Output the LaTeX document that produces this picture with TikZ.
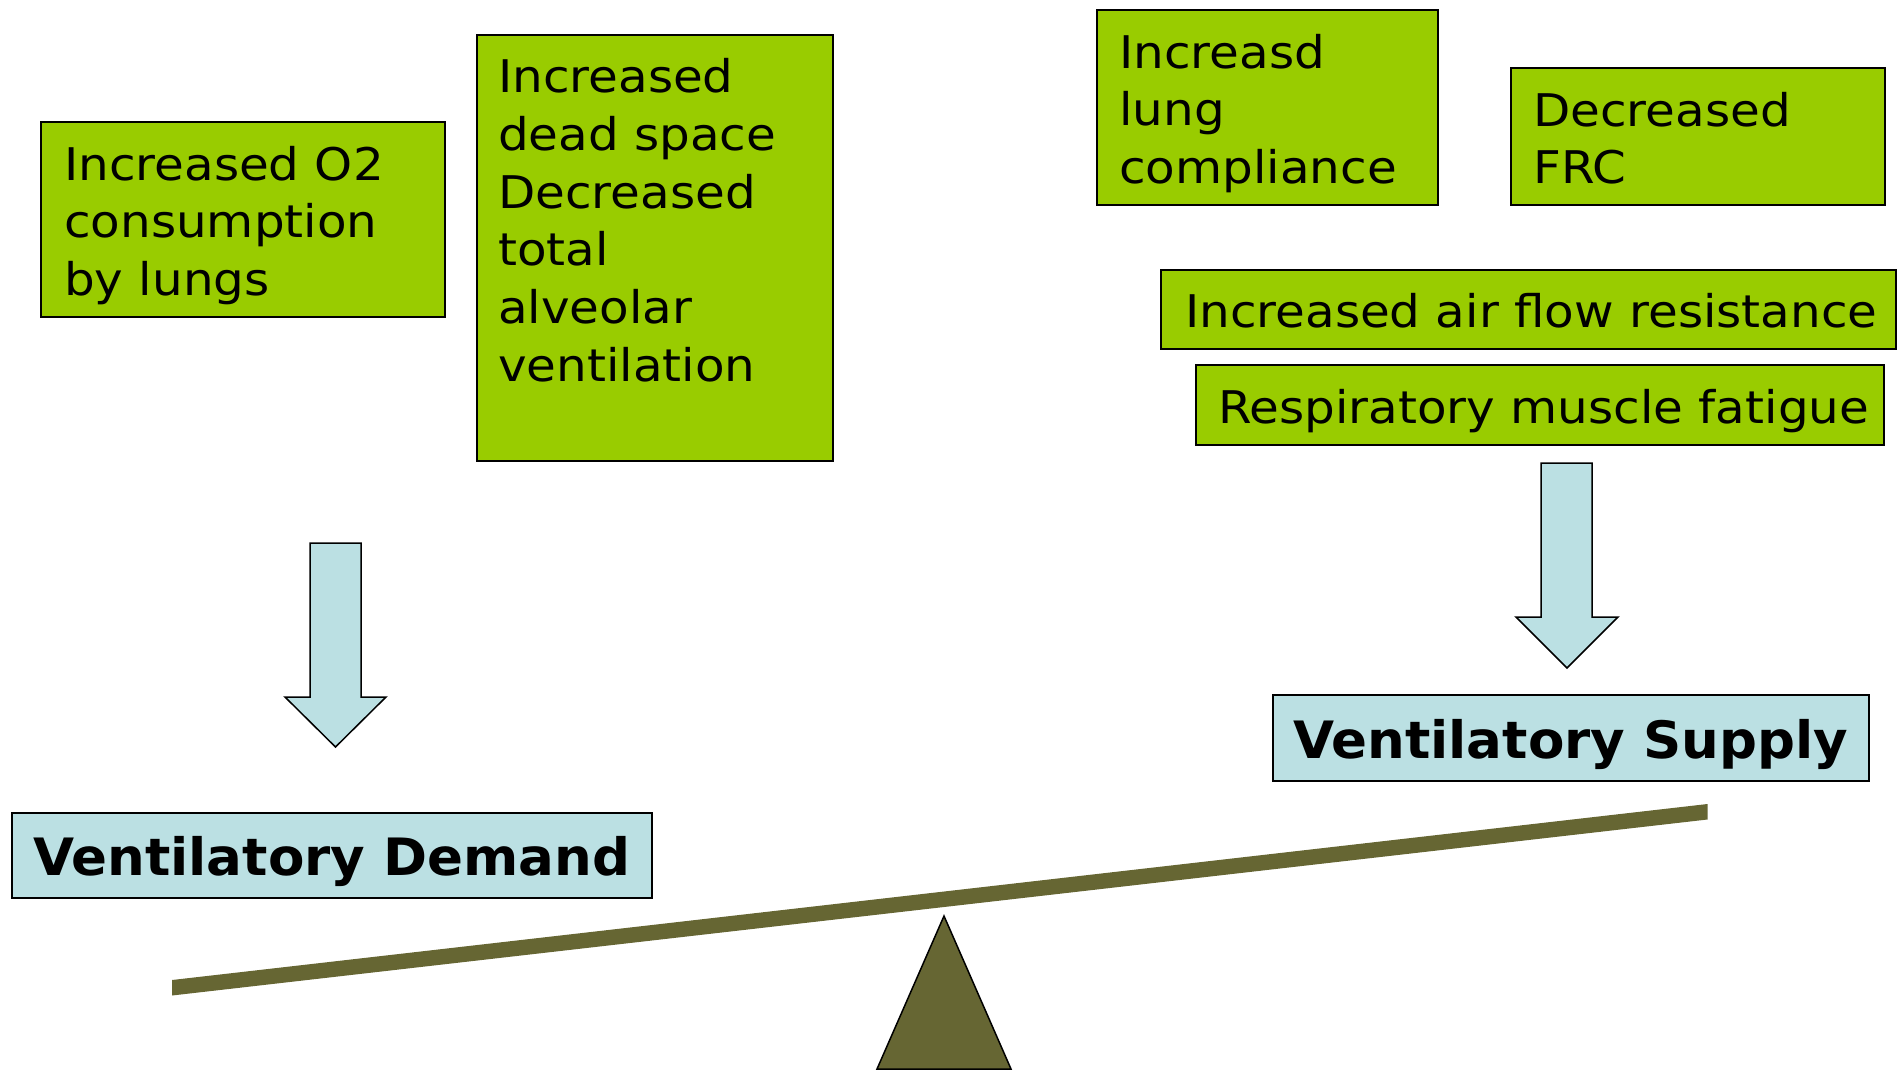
\documentclass[tikz,border=0pt]{standalone}
\usepackage{fontspec}
\setmainfont{DejaVu Sans}
\newfontfamily\boxfont[FakeStretch=1.075]{DejaVu Sans}
\newfontfamily\labelfont[FakeStretch=1.03]{DejaVu Sans}
\definecolor{vgreen}{HTML}{99CC00}
\definecolor{vblue}{HTML}{BBE0E3}
\definecolor{volive}{HTML}{666633}
\tikzset{
  greenbox/.style={draw=black, line width=2pt, fill=vgreen, inner sep=0pt, anchor=north west},
  bluebox/.style={draw=black, line width=1.6pt, fill=vblue, inner sep=0pt, anchor=north west},
  boxtext/.style={anchor=base west, inner sep=0pt, font=\boxfont\fontsize{45pt}{57.7pt}\selectfont},
  boldtext/.style={anchor=base west, inner sep=0pt, font=\labelfont\fontsize{51.5pt}{60pt}\selectfont\bfseries},
  blockarrow/.style={draw=black, line width=1.5pt, fill=vblue, line join=miter},
}
\newcommand{\boxlines}[1]{\parbox[t]{420pt}{\raggedright #1}}
\begin{document}
\begin{tikzpicture}[x=1pt, y=-1pt]
\path[use as bounding box] (0,0) rectangle (1898,1069);
% green boxes
\node[greenbox, minimum width=404pt, minimum height=195pt] (b1) at (40,121) {};
\node[greenbox, minimum width=356pt, minimum height=426pt] (b2) at (476,34) {};
\node[greenbox, minimum width=341pt, minimum height=195pt] (b3) at (1096,9) {};
\node[greenbox, minimum width=374pt, minimum height=137pt] (b4) at (1510,67) {};
\node[greenbox, minimum width=735pt, minimum height=79pt] (b5) at (1160,269) {};
\node[greenbox, minimum width=688pt, minimum height=80pt] (b6) at (1195,364) {};
% texts
\node[boxtext] (t1) at (64,180) {\boxlines{Increased O2\\consumption\\by lungs}};
\node[boxtext] (t2) at (498,92.7) {\boxlines{Increased\\dead space\\Decreased\\total\\alveolar\\ventilation}};
\node[boxtext] (t3) at (1119,68) {\boxlines{Increasd\\lung\\compliance}};
\node[boxtext] (t4) at (1533,126) {\boxlines{Decreased\\FRC}};
\node[boxtext] (t5) at (1185,327) {Increased air flow resistance};
\node[boxtext] (t6) at (1218,423) {Respiratory muscle fatigue};
% blue boxes
\node[bluebox, minimum width=640pt, minimum height=85pt] (demandbox) at (11,812) {};
\node[boldtext] (demand) at (33,875) {Ventilatory Demand};
\node[bluebox, minimum width=596pt, minimum height=86pt] (supplybox) at (1272,694) {};
\node[boldtext] (supply) at (1293,758) {Ventilatory Supply};
% block arrows
\path[blockarrow] (310,543) -- (361,543) -- (361,697) -- (386,697) -- (335.5,747)
  -- (285,697) -- (310,697) -- cycle;
\path[blockarrow] (1541,463) -- (1592,463) -- (1592,617) -- (1618,617) -- (1567,668)
  -- (1516,617) -- (1541,617) -- cycle;
% seesaw
\fill[volive] (172,980) -- (172,995.5) -- (1707.5,819.5) -- (1707.5,804) -- cycle;
\filldraw[fill=volive, draw=black, line width=1.5pt, line join=miter] (944,916) -- (1011,1069) -- (877,1069) -- cycle;
\end{tikzpicture}
\end{document}
